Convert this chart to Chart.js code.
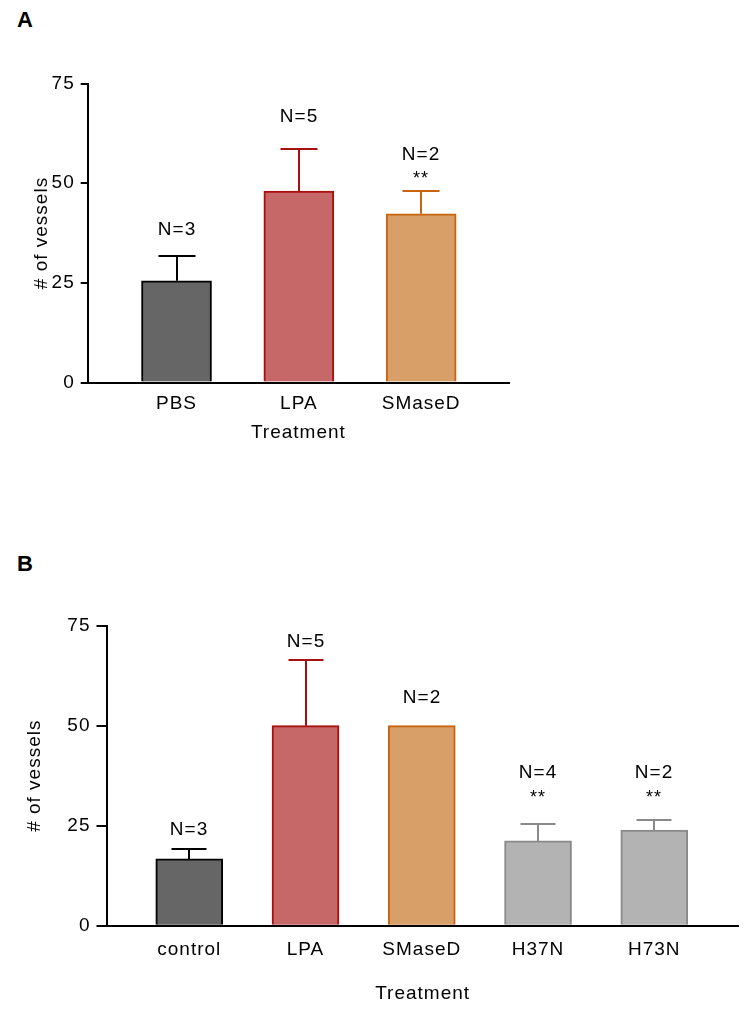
<!DOCTYPE html>
<html>
<head>
<meta charset="utf-8">
<script src="https://cdn.jsdelivr.net/npm/chart.js@4.4.1/dist/chart.umd.min.js"></script>
<style>
  html, body { margin: 0; padding: 0; background: #fff; }
  body { width: 754px; height: 1023px; position: relative; overflow: hidden;
         font-family: Arial, "Liberation Sans", sans-serif; }
  .panel { position: absolute; left: 0; width: 754px; }
  .tag { position: absolute; left: 17px; font-weight: bold; font-size: 22px; line-height: 22px; color: #000; }
</style>
</head>
<body>
<div class="tag" style="top:9px">A</div>
<div class="panel" style="top:0; height:444px"><canvas id="chartA"></canvas></div>
<div class="tag" style="top:553px">B</div>
<div class="panel" style="top:540px; height:465px"><canvas id="chartB"></canvas></div>

<script>
// panel A
const catsA = ['PBS', 'LPA', 'SMaseD'];
const meanA = [25.5, 48.0, 42.3];
const semA = [6.3, 10.5, 5.7];
const nA = ['N=3', 'N=5', 'N=2'];
const nAtA = [38.3, 66.7, 57.2];      // where the N= label sits, in y units
const starsA = ['', '', '**'];

// panel B
const catsB = ['control', 'LPA', 'SMaseD', 'H37N', 'H73N'];
const meanB = [16.7, 50.0, 50.0, 21.2, 23.9];
const semB = [2.5, 16.4, 0, 4.2, 2.5];
const nB = ['N=3', 'N=5', 'N=2', 'N=4', 'N=2'];
const nAtB = [23.9, 71.0, 57.0, 38.2, 38.2];
const starsB = ['', '', '', '**', '**'];

const yTicks = [0, 25, 50, 75];

const FONT = 'Arial, "Liberation Sans", sans-serif';
Chart.defaults.font.family = FONT;
Chart.defaults.color = '#000';

// colours per group
const fill = { pbs: '#666666', lpa: '#c66868', smase: '#d89f68', mut: '#b3b3b3' };
const line = { pbs: '#000000', lpa: '#a80f0f', smase: '#c8640f', mut: '#8a8a8a' };

// error bars (upper only) + N= / ** annotations
const annot = {
    id: 'annot',
    beforeDraw(chart) {
        // the original figure's text is a little spaced out
        chart.ctx.letterSpacing = '1px';
    },
    afterDatasetsDraw(chart, args, opts) {
        const ctx = chart.ctx;
        const xs = chart.scales.x, ys = chart.scales.y;
        ctx.save();
        opts.mean.forEach((m, i) => {
            const cx = Math.round(xs.getPixelForValue(i + 1));
            const top = ys.getPixelForValue(m);
            if (opts.sem[i] > 0) {
                const e = Math.round(ys.getPixelForValue(m + opts.sem[i]));
                ctx.strokeStyle = opts.lines[i];
                ctx.lineWidth = 2;
                ctx.beginPath();
                ctx.moveTo(cx, top);
                ctx.lineTo(cx, e);
                ctx.moveTo(cx - opts.cap / 2, e);
                ctx.lineTo(cx + opts.cap / 2, e);
                ctx.stroke();
            }
            const ny = ys.getPixelForValue(opts.nAt[i]);
            ctx.fillStyle = '#000';
            ctx.textAlign = 'center';
            ctx.textBaseline = 'middle';
            ctx.font = '19px ' + FONT;
            ctx.fillText(opts.n[i], cx, ny);
            if (opts.stars[i]) {
                ctx.textBaseline = 'alphabetic';
                ctx.font = '18px ' + FONT;
                ctx.fillText(opts.stars[i], cx, ny + 30);
            }
        });
        ctx.restore();
    }
};

function makeChart(id, cats, mean, sem, nText, nAt, stars, fills, lines, o) {
    return new Chart(document.getElementById(id), {
        type: 'bar',
        data: {
            datasets: [{
                data: mean.map((v, i) => ({ x: i + 1, y: v })),
                backgroundColor: fills,
                borderColor: lines,
                borderWidth: 2,
                barThickness: o.barW,
            }]
        },
        options: {
            responsive: true,
            maintainAspectRatio: false,
            animation: false,
            devicePixelRatio: 1,
            layout: { padding: { left: 0, top: o.top, right: o.right, bottom: 0 } },
            plugins: {
                legend: { display: false },
                tooltip: { enabled: false },
                annot: { mean, sem, n: nText, nAt, stars, lines, cap: o.cap },
            },
            scales: {
                x: {
                    type: 'linear',
                    offset: false,
                    min: o.xMin,
                    max: o.xMax,
                    afterBuildTicks: s => { s.ticks = cats.map((c, i) => ({ value: i + 1 })); },
                    afterFit: s => { s.height = o.xH; },
                    grid: { display: false, drawTicks: false },
                    border: { display: true, color: '#000', width: 2 },
                    ticks: {
                        callback: v => cats[v - 1],
                        color: '#000',
                        font: { size: 19 },
                        padding: o.xPad,
                        autoSkip: false,
                        maxRotation: 0,
                    },
                    title: { display: true, text: 'Treatment', color: '#000', font: { size: 19 }, padding: 0 },
                },
                y: {
                    min: 0,
                    max: 75,
                    afterBuildTicks: s => { s.ticks = yTicks.map(v => ({ value: v })); },
                    afterFit: s => { s.width = o.yW; },
                    grid: { drawOnChartArea: false, drawTicks: true, tickLength: o.tickLen, color: '#000', lineWidth: 2 },
                    border: { color: '#000', width: 2 },
                    ticks: { color: '#000', font: { size: 19 }, padding: 6 },
                    title: { display: true, text: '# of vessels', color: '#000', font: { size: 19 }, padding: { top: o.yTitlePad, bottom: 0 } },
                },
            },
        },
        plugins: [annot],
    });
}

makeChart('chartA', catsA, meanA, semA, nA, nAtA, starsA,
    [fill.pbs, fill.lpa, fill.smase],
    [line.pbs, line.lpa, line.smase],
    { top: 83.5, right: 245, xMin: 0.274, xMax: 3.718, barW: 70, cap: 37,
      xH: 61.5, xPad: 9.4, yW: 87.7, tickLen: 7, yTitlePad: 30.6 });

makeChart('chartB', catsB, meanB, semB, nB, nAtB, starsB,
    [fill.pbs, fill.lpa, fill.smase, fill.mut, fill.mut],
    [line.pbs, line.lpa, line.smase, line.mut, line.mut],
    { top: 85.7, right: 15.2, xMin: 0.288, xMax: 5.727, barW: 67, cap: 35,
      xH: 79.3, xPad: 12.2, yW: 106.5, tickLen: 10, yTitlePad: 23.1 });
</script>
</body>
</html>
